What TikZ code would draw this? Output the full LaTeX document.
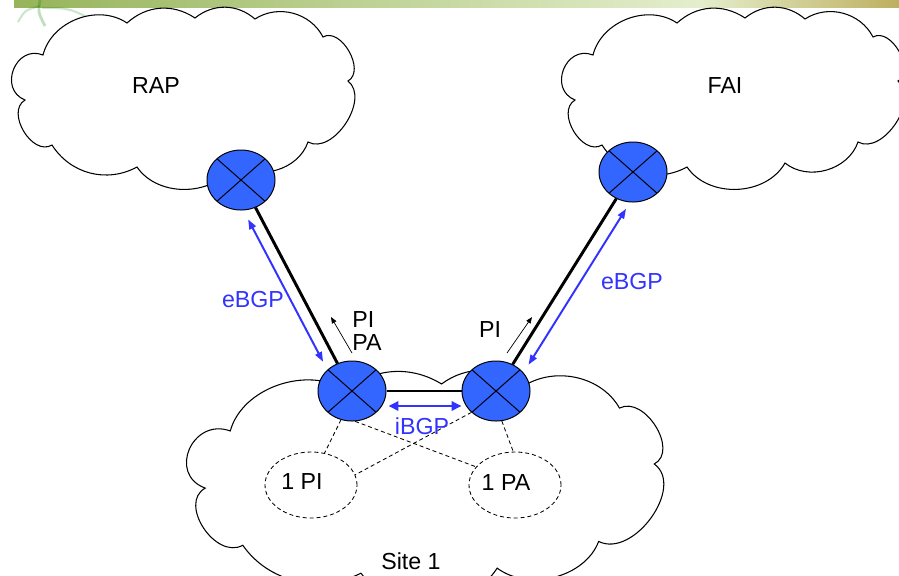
\documentclass[tikz,border=0pt]{standalone}
\usepackage{fontspec}
\setmainfont{Liberation Sans}
\usepackage{tikz}
\usetikzlibrary{shapes.geometric,arrows.meta,calc}
\definecolor{rblue}{RGB}{51,102,255}
\definecolor{bgpblue}{RGB}{51,51,255}
\definecolor{bargreen}{RGB}{150,180,90}
\definecolor{barpale}{RGB}{228,238,205}
\definecolor{barend}{RGB}{190,175,95}

% one cloud outline, puff by puff (clockwise)
\tikzset{
  puffcloud/.pic={
    \draw[fill=white, line width=0.75pt]
      (43,55) to[bend left=55] (127,23) to[bend left=38] (195,18)
      to[bend left=40] (255,19) to[bend left=48] (323,37)
      to[bend left=90, looseness=1.05] (348,81)
      to[bend left=85] (308,142) to[bend left=55] (235,163)
      to[bend left=58] (137,167) to[bend left=43] (52,145)
      to[bend left=90, looseness=1.12] (25,100)
      to[bend left=90, looseness=1.55] (43,55) -- cycle;
  }
}

\begin{document}
\begin{tikzpicture}[x=0.025cm, y=-0.025cm,
    router/.style={ellipse, draw, line width=0.7pt, fill=rblue,
        minimum width=1.7cm, minimum height=1.5cm, inner sep=0pt,
        path picture={\draw[line width=0.7pt]
            (path picture bounding box.north west) -- (path picture bounding box.south east)
            (path picture bounding box.north east) -- (path picture bounding box.south west);}},
    pool/.style={ellipse, draw, dash pattern=on 2.8pt off 2.1pt, line width=0.6pt,
        minimum width=2.3cm, minimum height=1.65cm},
    lbl/.style={font=\fontsize{16.5}{16.5}\selectfont, inner sep=0pt},
    bgp/.style={lbl, text=bgpblue},
    link/.style={line width=2.1pt},
    tie/.style={dash pattern=on 2.8pt off 2.1pt, line width=0.6pt},
    peer/.style={{Triangle[length=7pt,width=5pt]}-{Triangle[length=7pt,width=5pt]},
        line width=1.4pt, color=bgpblue},
    ipeer/.style={{Triangle[length=7pt,width=6.5pt]}-{Triangle[length=7pt,width=6.5pt]},
        line width=2.1pt, color=bgpblue},
    hint/.style={-{Triangle[length=4.5pt,width=3.5pt]}, line width=0.5pt}
]
\clip (0,0) rectangle (899,575);

% title bar
\shade[left color=bargreen, right color=barpale] (14,0) rectangle (700,7);
\shade[left color=barpale, right color=barend] (700,0) rectangle (899,7);
\draw[green!50!black, opacity=0.25, line width=2pt] (40,0) .. controls (38,12) .. (45,26);
\draw[green!50!black, opacity=0.2, line width=1.5pt] (40,6) .. controls (25,10) .. (18,22);
\draw[green!50!black, opacity=0.2, line width=1.5pt] (42,8) .. controls (70,8) .. (100,24);

% clouds
\pic at (0,0) {puffcloud};
\pic at (550,0) {puffcloud};
\pic[xscale=1.39, yscale=1.27] at (170.5,361.1) {puffcloud};

\node[lbl] (rapname) at (156,86) {RAP};
\node[lbl] (fainame) at (725,86) {FAI};
\node[lbl] (sitename) at (411,561) {Site 1};

% prefixes inside the site
\node[pool] (pi) at (311,485) {};
\node[pool] (pa) at (515,485) {};
\node[lbl] (piname) at (302,482) {1 PI};
\node[lbl] (paname) at (506,483) {1 PA};

% routers
\node[router] (rap) at (241,180) {};
\node[router] (fai) at (633,172) {};
\node[router] (sl) at (352,391) {};
\node[router] (sr) at (496,391) {};

% physical links
\draw[link] (rap) -- (sl);
\draw[link] (fai) -- (sr);
\draw[link] (sl) -- (sr);

% which router announces which prefix
\draw[tie] (sl.-111) -- (pi.67);
\draw[tie] (sl.-84) -- (pa.155);
\draw[tie] (sr.-139) -- (pi.13);
\draw[tie] (sr.-79) -- (pa.93);

% BGP sessions
\draw[peer] ($(rap)!0.16!(sl)!0.3cm!-90:(sl)$) -- ($(rap)!0.835!(sl)!0.3cm!-90:(sl)$);
\draw[peer] ($(fai)!0.135!(sr)!0.34cm!90:(sr)$) -- ($(fai)!0.847!(sr)!0.34cm!90:(sr)$);
\draw[ipeer] ($(sl.east)+(2,15)$) -- ($(sr.west)+(0,15)$);

\node[bgp] (ebgpl) at (253,300) {eBGP};
\node[bgp] (ebgpr) at (632,282) {eBGP};
\node[bgp] (ibgp) at (422,426) {iBGP};

% announced prefixes
\coordinate (pl0) at (352,353);
\coordinate (pl1) at (331,317);
\coordinate (pr0) at (507,353);
\coordinate (pr1) at (532,317);
\draw[hint] (pl0) -- (pl1);
\draw[hint] (pr0) -- (pr1);
\node[lbl, anchor=west, align=left] (pipa) at (352,331) {PI\\PA};
\node[lbl] (pionly) at (490,330) {PI};

\end{tikzpicture}
\end{document}
